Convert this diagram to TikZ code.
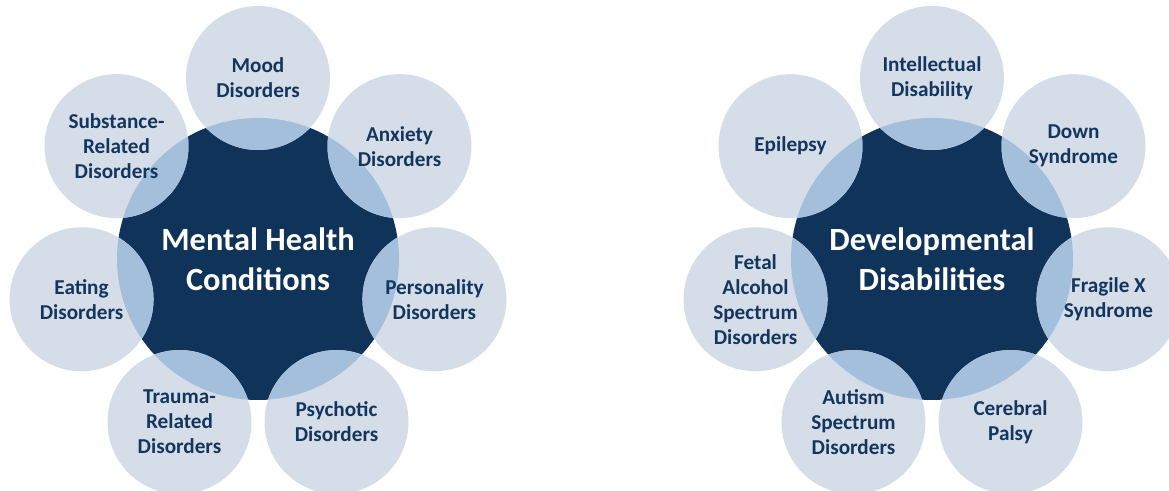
\documentclass[tikz,border=0pt]{standalone}
\usepackage{fontspec}
\setmainfont{Carlito}
\usetikzlibrary{calc}

\definecolor{hubblue}{HTML}{10335A}
\definecolor{petalgrey}{HTML}{D5DEE8}
\definecolor{overlapblue}{HTML}{A3BFDC}
\definecolor{labelblue}{HTML}{14365E}

\begin{document}
\begin{tikzpicture}[
    x=0.5pt,y=0.5pt,
    hub/.style={circle,fill=hubblue,inner sep=0pt,minimum size=141pt,text=white,align=center,font=\bfseries\fontsize{16.2}{20}\selectfont},
    petal/.style={circle,fill=petalgrey,inner sep=0pt,minimum size=72pt,text=labelblue,align=center,font=\bfseries\fontsize{10.6}{12.5}\selectfont,
        path picture={\fill[overlapblue] (#1.center) circle[radius=70.5pt];}}
]
\useasboundingbox (0,0) rectangle (1169,491);
\clip (0,0) rectangle (1169,491);

% Círculos centrais
\node[hub] (mh) at (258,232) {Mental Health\\Conditions};
\node[hub] (dd) at (932,232) {Developmental\\Disabilities};

% Pétalas - saúde mental
\node[petal=mh] (mood)        at ($(mh)+(90:181)$)     {Mood\\Disorders};
\node[petal=mh] (anxiety)     at ($(mh)+(38.57:181)$)  {Anxiety\\Disorders};
\node[petal=mh] (personality) at ($(mh)+(-12.86:181)$) {Personality\\Disorders};
\node[petal=mh] (psychotic)   at ($(mh)+(-64.29:181)$) {Psychotic\\Disorders};
\node[petal=mh] (trauma)      at ($(mh)+(-115.71:181)$) {Trauma-\\Related\\Disorders};
\node[petal=mh] (eating)      at ($(mh)+(-167.14:181)$) {Eating\\Disorders};
\node[petal=mh] (substance)   at ($(mh)+(141.43:181)$) {Substance-\\Related\\Disorders};

% Pétalas - deficiências do desenvolvimento
\node[petal=dd] (intellectual) at ($(dd)+(90:181)$)     {Intellectual\\Disability};
\node[petal=dd] (down)         at ($(dd)+(38.57:181)$)  {Down\\Syndrome};
\node[petal=dd] (fragile)      at ($(dd)+(-12.86:181)$) {Fragile X\\Syndrome};
\node[petal=dd] (cerebral)     at ($(dd)+(-64.29:181)$) {Cerebral\\Palsy};
\node[petal=dd] (autism)       at ($(dd)+(-115.71:181)$) {Autism\\Spectrum\\Disorders};
\node[petal=dd] (fetal)        at ($(dd)+(-167.14:181)$) {Fetal\\Alcohol\\Spectrum\\Disorders};
\node[petal=dd] (epilepsy)     at ($(dd)+(141.43:181)$) {Epilepsy};

\end{tikzpicture}
\end{document}
